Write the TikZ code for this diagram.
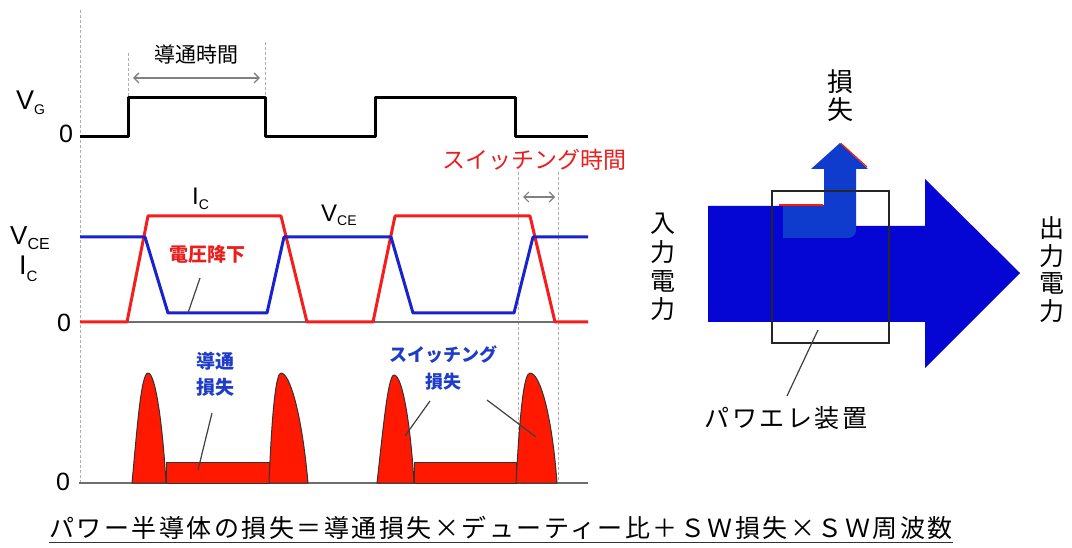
\documentclass[tikz,border=0pt]{standalone}
\usepackage{fontspec}
\setmainfont{Liberation Sans}
\newfontfamily\jp{Noto Sans CJK JP}
\newfontfamily\jpls{Noto Sans CJK JP}[LetterSpace=10]
\usetikzlibrary{arrows.meta}
\definecolor{icred}{RGB}{245,30,30}
\definecolor{vceblue}{RGB}{25,35,205}
\definecolor{lossred}{RGB}{255,25,0}
\definecolor{dashgray}{RGB}{175,175,175}
\definecolor{axisgray}{RGB}{110,110,110}
\definecolor{labred}{RGB}{235,30,30}
\definecolor{labblue}{RGB}{30,60,200}
\definecolor{mainblue}{RGB}{5,5,212}
\definecolor{lossblue}{RGB}{15,60,205}
\begin{document}
\begin{tikzpicture}[x=1pt,y=-1pt,
  guide/.style={dashgray, line width=1pt, dash pattern=on 3pt off 2pt},
  wave/.style={line width=3pt, line join=round},
  zeroline/.style={axisgray, line width=2pt},
  lbl/.style={inner sep=0pt, anchor=center},
  latin/.style={inner sep=0pt, anchor=base west},
  leader/.style={black!75, line width=1.2pt},
  hump/.style={fill=lossred, draw=black!80, line width=1pt, line join=round},
  span/.style={gray, line width=1.3pt, {Straight Barb[length=5pt,width=10pt]}-{Straight Barb[length=5pt,width=10pt]}},
]
\useasboundingbox (0,0) rectangle (1072,548);
\fill[white] (0,0) rectangle (1072,548);

% guides
\draw[guide] (80,10) -- (80,483);
\draw[guide] (128,53) -- (128,98);
\draw[guide] (265,42) -- (265,98);
\draw[guide] (518,172) -- (518,483);
\draw[guide] (558,172) -- (558,483);

% V_G waveform
\draw[wave, black] (80,137) -- (128,137) -- (128,98) -- (265,98) -- (265,137) -- (375,137) -- (375,98) -- (515,98) -- (515,137) -- (588,137);

% V_CE / I_C waveforms
\draw[zeroline] (80,322) -- (588,322);
\draw[wave, icred] (80,322) -- (127,322) -- (148,216) -- (281,216) -- (307,322) -- (373,322) -- (395,216) -- (530,216) -- (555,322) -- (588,322);
\draw[wave, vceblue] (80,237) -- (145,237) -- (168,313) -- (267,313) -- (284,237) -- (391,237) -- (413,313) -- (514,313) -- (533,237) -- (588,237);

% losses
\draw[zeroline] (79,483) -- (588,483);
\draw[hump] (166,462) rectangle (269,483);
\draw[hump] (414,462) rectangle (516,483);
\draw[hump] (132,483) .. controls (137,430) and (141,373) .. (148,373) .. controls (156,373) and (163,430) .. (166,483) -- cycle;
\draw[hump] (269,483) .. controls (272,410) and (276,373) .. (281,373) .. controls (290,373) and (302,415) .. (308,483) -- cycle;
\draw[hump] (377,483) .. controls (383,430) and (388,375) .. (394,375) .. controls (403,375) and (411,430) .. (414,483) -- cycle;
\draw[hump] (516,483) .. controls (520,410) and (524,373) .. (530,373) .. controls (540,373) and (552,415) .. (557,483) -- cycle;

% left labels
\node[latin] (vg) at (16,110) {\fontsize{27}{27}\selectfont V\raisebox{-5pt}{\fontsize{14}{14}\selectfont G}};
\node[lbl] (z1) at (66,134) {\fontsize{25}{25}\selectfont 0};
\node[latin] (vce) at (10,245) {\fontsize{26}{26}\selectfont V\raisebox{-5pt}{\fontsize{16}{16}\selectfont CE}};
\node[latin] (ic) at (19,275) {\fontsize{27}{27}\selectfont I\raisebox{-7pt}{\fontsize{15}{15}\selectfont C}};
\node[lbl] (z2) at (64,323) {\fontsize{25}{25}\selectfont 0};
\node[lbl] (z3) at (63,482) {\fontsize{25}{25}\selectfont 0};
\node[latin] (icm) at (192,205) {\fontsize{24}{24}\selectfont I\raisebox{-5pt}{\fontsize{14}{14}\selectfont C}};
\node[latin] (vcem) at (321,222) {\fontsize{24}{24}\selectfont V\raisebox{-4pt}{\fontsize{14}{14}\selectfont CE}};

% time spans
\node[lbl, font=\jp\fontsize{21}{21}\selectfont] (tcond) at (196,55) {導通時間};
\coordinate (ca) at (133,78);
\coordinate (cb) at (260,78);
\draw[span] (ca) -- (cb);
\node[lbl, text=labred, font=\jp\fontsize{23}{23}\selectfont] (tsw) at (534,160) {スイッチング時間};
\coordinate (sa) at (523,197);
\coordinate (sb) at (555,197);
\draw[span, line width=1.1pt] (sa) -- (sb);

% annotations
\node[lbl, text=labred, font=\jp\bfseries\fontsize{19}{19}\selectfont] (vdrop) at (207,254) {電圧降下};
\coordinate (vd1) at (200,278);
\coordinate (vd2) at (188,313);
\draw[leader] (vd1) -- (vd2);
\node[lbl, text=labblue, align=center, font=\jp\bfseries\fontsize{19}{26}\selectfont] (cl) at (215,374) {導通\\損失};
\coordinate (cl1) at (212,413);
\coordinate (cl2) at (198,470);
\draw[leader] (cl1) -- (cl2);
\node[lbl, text=labblue, align=center, font=\jp\bfseries\fontsize{18}{27}\selectfont] (sl) at (443,368) {スイッチング\\損失};
\coordinate (sl1) at (430,401);
\coordinate (sl2) at (405,436);
\coordinate (sl3) at (487,400);
\coordinate (sl4) at (536,437);
\draw[leader] (sl1) -- (sl2);
\draw[leader] (sl3) -- (sl4);

% right diagram
\fill[mainblue] (708,206) -- (783,206) -- (783,226) -- (925,226) -- (925,179) -- (1020,273) -- (925,368) -- (925,322) -- (708,322) -- cycle;
\fill[lossblue] (783,205) -- (824,205) -- (824,169) -- (811,169) -- (840,143) -- (868,169) -- (856,169) -- (856,230) .. controls (856,234.4) and (852.4,238) .. (848,238) -- (783,238) -- cycle;
\draw[lossred, line width=1.2pt] (841,143.5) -- (867,167);
\draw[lossred, line width=1.2pt] (779,205) -- (823,205);
\node[draw=black!85, line width=1.3pt, minimum width=117pt, minimum height=152pt, inner sep=0pt] (dev) at (830.5,267) {};
\coordinate (d1) at (818,330);
\coordinate (d2) at (787,396);
\draw[leader] (d1) -- (d2);
\node[lbl, font=\jpls\fontsize{25}{25}\selectfont] (devlbl) at (786,418) {パワエレ装置};
\node[lbl, align=center, font=\jp\fontsize{26}{28}\selectfont] (loss) at (840,96) {損\\失};
\node[lbl, align=center, font=\jp\fontsize{25}{28.7}\selectfont] (pin) at (663,267) {入\\力\\電\\力};
\node[lbl, align=center, font=\jp\fontsize{25}{27.7}\selectfont] (pout) at (1052,269.5) {出\\力\\電\\力};

% formula
\node[inner sep=0pt, anchor=base, font=\jpls\fontsize{25}{25}\selectfont] (formula) at (501,537) {パワー半導体の損失＝導通損失×デューティー比＋ＳＷ損失×ＳＷ周波数};
\draw[black!80, line width=1.5pt] ([yshift=-3pt]formula.south west) -- ([yshift=-3pt]formula.south east);
\end{tikzpicture}
\end{document}
